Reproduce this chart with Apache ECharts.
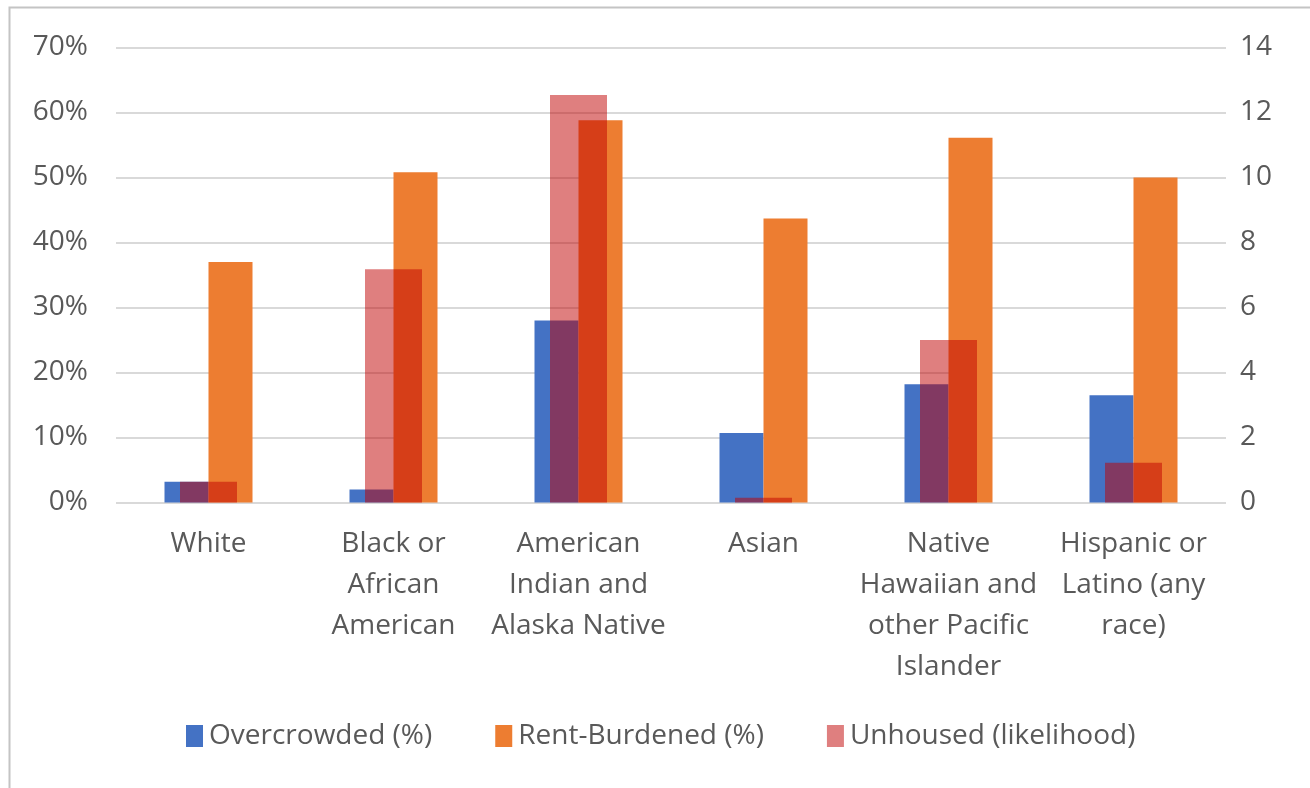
<!DOCTYPE html>
<html>
<head>
<meta charset="utf-8">
<script src="https://cdn.jsdelivr.net/npm/echarts@6/dist/echarts.min.js"></script>
<style>
  html, body { margin: 0; padding: 0; background: #ffffff; }
  #chart { width: 1310px; height: 788px; }
</style>
</head>
<body>
<div id="chart"></div>
<script>
// Housing outcomes by race / ethnicity
const categories = [
  'White',
  'Black or\nAfrican\nAmerican',
  'American\nIndian and\nAlaska Native',
  'Asian',
  'Native\nHawaiian and\nother Pacific\nIslander',
  'Hispanic or\nLatino (any\nrace)'
];
const overcrowded = [3.2, 2.0, 28.0, 10.7, 18.2, 16.5];   // % of households
const rentBurdened = [37.0, 50.8, 58.8, 43.7, 56.1, 50.0]; // % of households
const unhoused = [0.64, 7.18, 12.54, 0.15, 5.0, 1.22];     // likelihood ratio
const leftTicks = { min: 0, max: 70, interval: 10 };
const rightTicks = { min: 0, max: 14, interval: 2 };

const textColor = '#595959';
const font = '"Open Sans", sans-serif';

const chart = echarts.init(document.getElementById('chart'), null, { renderer: 'canvas' });
chart.setOption({
  backgroundColor: '#ffffff',
  animation: false,
  textStyle: { fontFamily: font, color: textColor },
  graphic: [{
    type: 'rect',
    left: 7, top: 5,
    shape: { width: 1320, height: 800 },
    style: { fill: 'none', stroke: '#c4c4c4', lineWidth: 2 },
    silent: true
  }],
  grid: { left: 116, right: 84, top: 47.5, bottom: 285.5 },
  legend: {
    left: 186, top: 722, padding: 0,
    itemWidth: 17, itemHeight: 22, itemGap: 63,
    icon: 'rect',
    textStyle: { fontFamily: font, fontSize: 28, color: textColor, padding: [0, 0, 0, 1] },
    data: ['Overcrowded (%)', 'Rent-Burdened (%)', 'Unhoused (likelihood)']
  },
  xAxis: [{
    type: 'category',
    data: categories,
    axisLine: { show: false },
    axisTick: { show: false },
    axisLabel: {
      interval: 0, margin: 21,
      fontFamily: font, fontSize: 28, color: textColor, lineHeight: 41
    }
  }, {
    type: 'category',
    data: categories,
    show: false
  }],
  yAxis: [{
    type: 'value',
    min: leftTicks.min, max: leftTicks.max, interval: leftTicks.interval,
    axisLine: { show: false },
    axisTick: { show: false },
    splitLine: { lineStyle: { color: '#d9d9d9', width: 2 } },
    axisLabel: {
      formatter: '{value}%', margin: 28,
      fontFamily: font, fontSize: 28, color: textColor
    }
  }, {
    type: 'value',
    position: 'right',
    min: rightTicks.min, max: rightTicks.max, interval: rightTicks.interval,
    axisLine: { show: false },
    axisTick: { show: false },
    splitLine: { show: false },
    axisLabel: { margin: 14, fontFamily: font, fontSize: 28, color: textColor }
  }],
  series: [{
    name: 'Overcrowded (%)',
    type: 'bar',
    data: overcrowded,
    barWidth: 44, barGap: '0%',
    itemStyle: { color: '#4472c4' },
    z: 2
  }, {
    name: 'Rent-Burdened (%)',
    type: 'bar',
    data: rentBurdened,
    barWidth: 44, barGap: '0%',
    itemStyle: { color: '#ed7d31' },
    z: 2
  }, {
    name: 'Unhoused (likelihood)',
    type: 'bar',
    xAxisIndex: 1, yAxisIndex: 1,
    data: unhoused,
    barWidth: 57,
    itemStyle: { color: 'rgba(192,0,0,0.5)' },
    z: 3
  }]
});
</script>
</body>
</html>
